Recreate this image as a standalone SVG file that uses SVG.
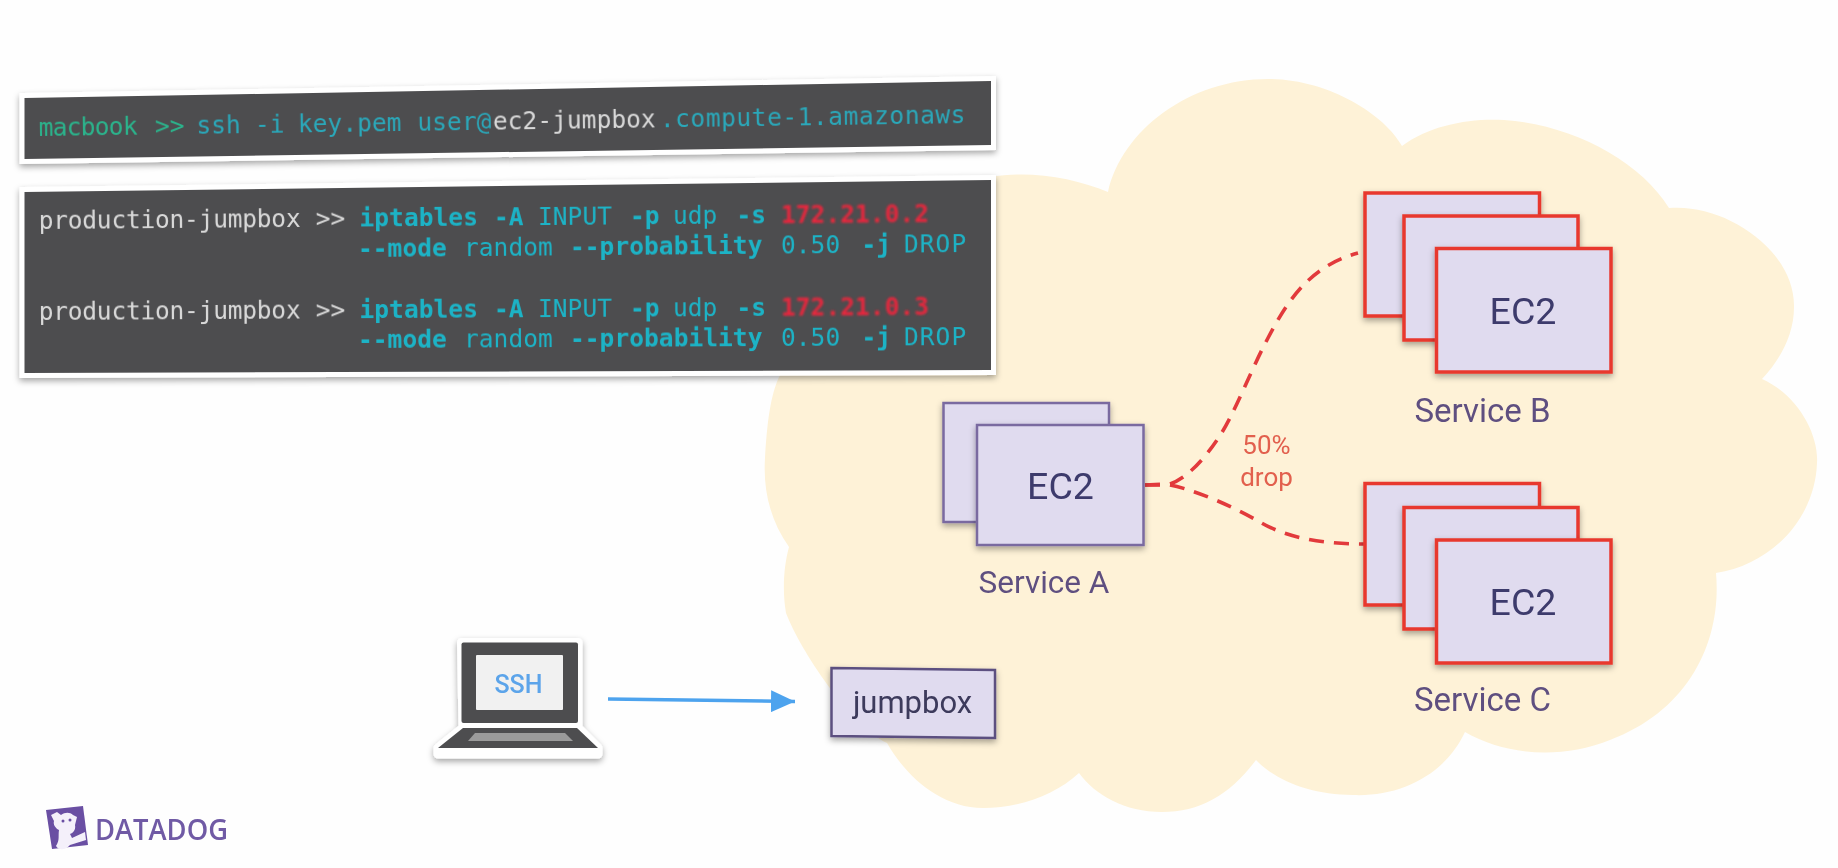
<svg xmlns="http://www.w3.org/2000/svg" width="1838" height="868" viewBox="0 0 1838 868">
<defs>
<filter id="shadow" x="-10%" y="-20%" width="120%" height="145%"><feDropShadow dx="0" dy="3" stdDeviation="3" flood-color="#000" flood-opacity="0.35"/></filter>
<filter id="soft" x="-5%" y="-20%" width="110%" height="140%"><feGaussianBlur stdDeviation="0.55"/></filter>
<filter id="softer" x="-5%" y="-20%" width="110%" height="140%"><feGaussianBlur stdDeviation="1.2"/></filter>
<marker id="arrow" markerUnits="userSpaceOnUse" markerWidth="25" markerHeight="22" refX="24" refY="11" orient="auto"><path d="M0 0L24 11L0 22Z" fill="#4da3ee"/></marker>
</defs>
<style>
text{font-family:Roboto,"Liberation Sans",sans-serif}
.m text,text.m{font-family:"DejaVu Sans Mono","Liberation Mono",monospace;font-size:24.6px}
.panel{fill:#4d4d4f;stroke:#fff;stroke-width:10;stroke-linejoin:miter;paint-order:stroke;filter:url(#shadow)}
.g{fill:#2bb48c}.t{fill:#2aa8ba}.w{fill:#d9d9d9}.c{fill:#1db3c6}.b{font-weight:700}.r{fill:#e8283c;font-weight:700;filter:url(#softer)}
.n{fill:#e0dbef;stroke:#7a6aa0;stroke-width:2.5;filter:url(#shadow)}
.rn{fill:#e0dbef;stroke:#e8382e;stroke-width:3.5;filter:url(#shadow)}
.ec{font-size:37.5px;fill:#3d3a6c;text-anchor:middle;filter:url(#soft)}
.lbl{font-size:33px;fill:#5f5080;text-anchor:middle;filter:url(#soft)}
.drop{font-size:26px;fill:#e2604e;text-anchor:middle;filter:url(#soft)}
.dash{fill:none;stroke:#e23a3c;stroke-width:3.6;stroke-dasharray:15 10}
</style>
<rect width="1838" height="868" fill="#fefefe"/>
<path id="cloud" fill="#fef2d7" d="M1108 192C1122 130 1190 78 1271 79C1330 80 1385 115 1402 146C1430 125 1470 118 1504 120C1570 124 1640 160 1669 208C1725 203 1795 250 1794 307C1794 335 1780 360 1762 379C1798 395 1819 435 1817 463C1815 520 1770 565 1716 573C1722 640 1690 710 1610 740C1560 760 1505 755 1465 732C1445 775 1400 797 1353 795C1310 795 1275 780 1256 760C1230 795 1200 812 1162 812C1125 812 1095 795 1079 773C1055 795 1020 808 983 808C940 808 905 775 887 743C850 725 800 650 786 613C782 590 784 565 789 547C770 520 763 490 765 458C767 425 770 395 780 375C785 290 880 190 990 177C1030 170 1075 178 1108 192Z"/>
<g id="panel-ssh">
<polygon class="panel" points="24.500,98 991,81 991,145 24.500,159"/>
<text class="m" transform="rotate(-0.8 38.700 136)" y="136" filter="url(#soft)"><tspan class="g" x="38.700" textLength="99">macbook</tspan><tspan class="g" x="155">&gt;&gt;</tspan><tspan class="t" x="196.500">ssh</tspan><tspan class="t" x="255">-i</tspan><tspan class="t" x="298">key.pem</tspan><tspan class="t" x="417.500">user@</tspan><tspan class="w" x="493">ec2-jumpbox</tspan><tspan class="t" x="660" letter-spacing="0.500">.compute-1.amazonaws</tspan></text>
</g>
<g id="panel-iptables">
<polygon class="panel" points="24.500,192 991,180 991,370 24.500,373"/>
<g class="m">
<text transform="rotate(-0.45 38 229)" y="229" filter="url(#soft)"><tspan class="w" x="38.700" textLength="262">production-jumpbox</tspan><tspan class="w" x="315.700">&gt;&gt;</tspan><tspan class="c b" x="359.500">iptables</tspan><tspan class="c b" x="494">-A</tspan><tspan class="c" x="538">INPUT</tspan><tspan class="c b" x="630">-p</tspan><tspan class="c" x="673">udp</tspan><tspan class="c b" x="736.500">-s</tspan><tspan class="r" x="781">172.21.0.2</tspan></text>
<text transform="rotate(-0.47 359 257)" y="257" filter="url(#soft)"><tspan class="c b" x="358">--mode</tspan><tspan class="c" x="464">random</tspan><tspan class="c b" x="570">--probability</tspan><tspan class="c" x="781">0.50</tspan><tspan class="c b" x="861.500">-j</tspan><tspan class="c" x="904" letter-spacing="1">DROP</tspan></text>
<text transform="rotate(-0.33 38 320)" y="320" filter="url(#soft)"><tspan class="w" x="38.700" textLength="262">production-jumpbox</tspan><tspan class="w" x="315.700">&gt;&gt;</tspan><tspan class="c b" x="359.500">iptables</tspan><tspan class="c b" x="494">-A</tspan><tspan class="c" x="538">INPUT</tspan><tspan class="c b" x="630">-p</tspan><tspan class="c" x="673">udp</tspan><tspan class="c b" x="736.500">-s</tspan><tspan class="r" x="781">172.21.0.3</tspan></text>
<text transform="rotate(-0.28 359 348)" y="348" filter="url(#soft)"><tspan class="c b" x="358">--mode</tspan><tspan class="c" x="464">random</tspan><tspan class="c b" x="570">--probability</tspan><tspan class="c" x="781">0.50</tspan><tspan class="c b" x="861.500">-j</tspan><tspan class="c" x="904" letter-spacing="1">DROP</tspan></text>
</g>
</g>
<g id="connectors">
<path class="dash" d="M1145 485L1170 484C1188 478 1207 456 1221 434C1236 410 1250 372 1268 338C1288 300 1310 266 1358 253"/>
<path class="dash" d="M1145 485L1170 485C1195 490 1230 505 1260 522C1290 540 1330 544 1365 544"/>
<path fill="none" stroke="#4da3ee" stroke-width="3.500" marker-end="url(#arrow)" d="M608 699L795 701.500"/>
</g>
<g id="service-a">
<rect class="n" x="943.500" y="403" width="165.500" height="119"/>
<rect class="n" x="977" y="425" width="166.500" height="120"/>
<text class="ec" x="1060.500" y="498.500">EC2</text>
<text class="lbl" style="font-size:31.500px" x="1044" y="593">Service A</text>
</g>
<g id="service-b">
<rect class="rn" x="1365" y="193" width="174.500" height="123"/>
<rect class="rn" x="1404" y="216" width="174" height="124"/>
<rect class="rn" x="1436.500" y="248.500" width="174.500" height="123.500"/>
<text class="ec" x="1523" y="323.500">EC2</text>
<text class="lbl" x="1482.500" y="422">Service B</text>
</g>
<g id="service-c">
<rect class="rn" x="1365" y="483.500" width="174.500" height="121.500"/>
<rect class="rn" x="1404" y="507.500" width="174" height="121.500"/>
<rect class="rn" x="1436.500" y="540" width="174.500" height="123"/>
<text class="ec" x="1523" y="614.500">EC2</text>
<text class="lbl" x="1482.500" y="711">Service C</text>
</g>
<g id="drop-label">
<text class="drop" x="1266.500" y="454">50%</text>
<text class="drop" x="1266.500" y="486">drop</text>
</g>
<g id="jumpbox">
<polygon points="831.500,668 995,670 995,738 831.500,736" fill="#e0dbef" stroke="#5b5080" stroke-width="2.500" filter="url(#shadow)"/>
<text x="912.500" y="713" font-size="31" fill="#3d3a5c" text-anchor="middle" filter="url(#soft)">jumpbox</text>
</g>
<g id="laptop">
<path d="M461.500 642.500H578V728L598 748V754H438V748L463 728Z" fill="#fff" stroke="#fff" stroke-width="9" stroke-linejoin="round" filter="url(#shadow)"/>
<rect x="461.500" y="642.500" width="116.500" height="80.500" rx="2" fill="#4d4d4f"/>
<rect x="476" y="655" width="87" height="55" rx="1" fill="#f1f1f1"/>
<polygon points="463,728 577,728 598,748 438,748" fill="#4d4d4f"/>
<polygon points="475,733 565,733 573,741 468,741" fill="#9b9b9b"/>
<text x="518.500" y="692.500" font-size="25" font-weight="500" fill="#5ba4ea" text-anchor="middle" filter="url(#soft)">SSH</text>
</g>
<g id="datadog-logo" filter="url(#soft)">
<polygon points="46,810 83,806 88,845 52,849" fill="#6a4fa3"/>
<path d="M51 815L57 812L61 815C65 812 70 812 73 815L77 817L75 825C76 830 73 833 70 834L72 838L85 832L86 840L70 845C66 850 59 851 56 846C60 840 58 836 59 830C55 828 53 824 54 821Z" fill="#f4f0fa"/>
<circle cx="63" cy="821" r="1.500" fill="#6a4fa3"/>
<circle cx="70" cy="820" r="1.500" fill="#6a4fa3"/>
<text x="95" y="840" font-size="28" font-weight="600" fill="#6f5aa5" textLength="133" lengthAdjust="spacingAndGlyphs" style="font-family:'Open Sans',sans-serif">DATADOG</text>
</g>
</svg>
